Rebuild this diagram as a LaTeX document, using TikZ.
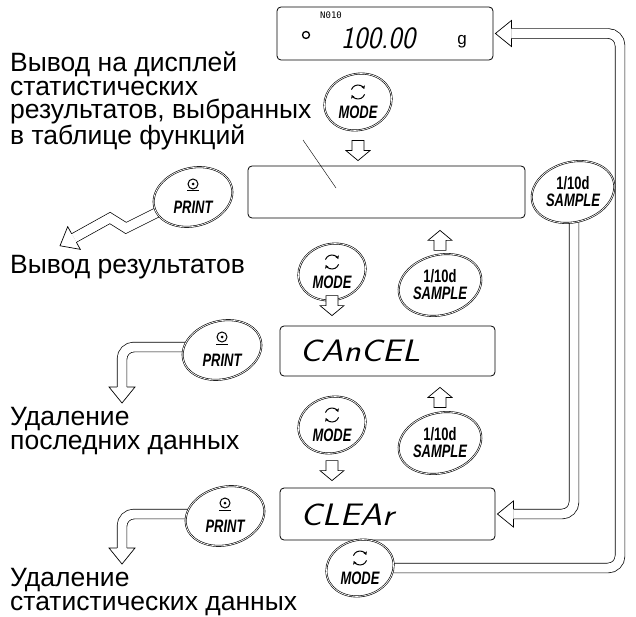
\documentclass[tikz,border=0pt]{standalone}
\usepackage{fontspec}
\setmainfont{Liberation Sans}
\newfontfamily\keyfont[FakeStretch=0.72]{Liberation Sans}
\newfontfamily\counterfont{DejaVu Sans Mono}
\usetikzlibrary{shapes.geometric, calc, positioning, arrows.meta}

% hollow arrow head at #2, pointing away from #1
\newcommand\hollowhead[2]{%
  \fill[white] ($(#2)!13pt!90:(#1)$) -- ($(#2)!-16pt!(#1)$) -- ($(#2)!13pt!-90:(#1)$) -- cycle;
  \draw[line width=0.7pt, line join=miter] ($(#2)!4.9pt!90:(#1)$) -- ($(#2)!13pt!90:(#1)$)
    -- ($(#2)!-16pt!(#1)$) -- ($(#2)!13pt!-90:(#1)$) -- ($(#2)!4.9pt!-90:(#1)$);}

\tikzset{
  display/.style = {draw, rounded corners=4pt, line width=0.8pt, inner sep=0pt},
  key/.style = {ellipse, draw, fill=white, line width=0.6pt, double,
                double distance=0.7pt, rotate=15, inner sep=0pt},
  modekey/.style = {key, minimum width=68pt, minimum height=56pt},
  printkey/.style = {key, minimum width=80pt, minimum height=58pt},
  samplekey/.style = {key, minimum width=84pt, minimum height=60pt},
  keytext/.style = {font=\keyfont\bfseries\itshape\fontsize{18}{17}\selectfont,
                    inner sep=0pt, align=center},
  lcd/.style = {font=\sffamily\itshape\fontsize{31}{31}\selectfont, inner sep=0pt},
  band/.style = {line width=0.7pt, double, double distance=9pt, rounded corners=12pt},
  bolt/.style = {line width=0.7pt, double, double distance=9pt, line join=miter},
  note/.style = {font=\fontsize{26.5}{23.5}\selectfont, align=left, inner sep=0pt,
                 anchor=base west},
  pics/downarrow/.style = {code={
    \draw[fill=white, line width=0.7pt] (-6,-10) -- (6,-10) -- (6,0) -- (12,0)
      -- (0,10) -- (-12,0) -- (-6,0) -- cycle;}},
  pics/uparrow/.style = {code={
    \draw[fill=white, line width=0.7pt] (-6,10) -- (6,10) -- (6,0) -- (12,0)
      -- (0,-10) -- (-12,0) -- (-6,0) -- cycle;}},
  pics/modeicon/.style = {code={
    \draw[line width=1pt, -{Stealth[length=3.5pt, width=4pt]}]
      (200:7) arc[start angle=200, end angle=335, radius=7];
    \draw[line width=1pt, -{Stealth[length=3.5pt, width=4pt]}]
      (20:7) arc[start angle=20, end angle=155, radius=7];}},
  pics/printicon/.style = {code={
    \draw[line width=1pt] (0,0) circle[radius=5];
    \fill (0,0) circle[radius=1.5];
    \draw[line width=1pt] (-6,7) -- (6,7);}},
}

\begin{document}
\begin{tikzpicture}[x=1pt, y=-1pt]
  \useasboundingbox (0,0) rectangle (636,617);

  % Displays
  \node (dTop) [display, minimum width=216pt, minimum height=53pt] at (385,33.5) {};
  \node (dStat) [display, minimum width=277pt, minimum height=52pt] at (386.5,192) {};
  \node (dCancel) [display, minimum width=215pt, minimum height=50pt] at (387.5,351) {};
  \node (dClear) [display, minimum width=215pt, minimum height=52pt] at (387.5,514) {};

  % Display texts
  \node (nCount) [font=\counterfont\fontsize{9}{9}\selectfont, inner sep=0pt] at (331,15) {N010};
  \node (stab) [circle, draw, line width=1.3pt, minimum size=7pt, inner sep=0pt] at (306,35) {};
  \node (lcdTop) [lcd] at (378,38) {\scalebox{0.92}[1]{100.00}};
  \node (unitG) [font=\fontsize{17}{17}\selectfont, inner sep=0pt] at (462,42) {g};
  \node (lcdCancel) [lcd] at (360,351) {\scalebox{1.15}[1]{CAnCEL}};
  \node (lcdClear) [lcd] at (347,515) {\scalebox{1.15}[1]{CLEAr}};

  % Texts on the left
  \node (txtStat) [note] at (10,145)
    {Вывод на дисплей\\статистических\\результатов, выбранных\\в таблице функций};
  \node (txtOut) [note] at (10,273) {Вывод результатов};
  \node (txtCancel) [note] at (10,449) {Удаление\\последних данных};
  \node (txtClear) [note] at (10,610) {Удаление\\статистических данных};

  % Coordinates for the connectors
  \coordinate (leadA) at (303,140);
  \coordinate (leadB) at (336,188);
  \coordinate (zA0) at (170,206);
  \coordinate (zA1) at (126,228);
  \coordinate (zA2) at (110,218);
  \coordinate (zA3) at (74,238);
  \coordinate (bendB) at (122,387);
  \coordinate (bendC) at (122,548);
  \coordinate (railX) at (620,0);
  \coordinate (headTop) at ($(dTop.east)+(18,0)$);
  \coordinate (headClear) at ($(dClear.east)+(18,0)$);

  % Hollow bands
  \draw[thin] (leadA) -- (leadB);
  \draw[bolt] (zA0) -- (zA1) -- (zA2) -- (zA3);
  \hollowhead{zA2}{zA3}
  \coordinate (cornerB) at (bendB |- 0,347);
  \draw[band] (222,347) -- (cornerB) -- (bendB);
  \hollowhead{cornerB}{bendB}
  \coordinate (cornerC) at (bendC |- 0,514);
  \draw[band] (225,514) -- (cornerC) -- (bendC);
  \hollowhead{cornerC}{bendC}
  \coordinate (railTop) at (headTop -| railX);
  \draw[band] (360,568) -| (railTop) -- (headTop);
  \hollowhead{railTop}{headTop}
  \coordinate (cornerClear) at (574,0 |- headClear);
  \draw[band] (574,192) -- (cornerClear) -- (headClear);
  \hollowhead{cornerClear}{headClear}

  % Keys
  \node (bModeA) [modekey] at (358,102) {};
  \node (bPrintA) [printkey] at (193,197) {};
  \node (bSampleA) [samplekey] at (573,192) {};
  \node (bModeB) [modekey] at (332,272) {};
  \node (bSampleB) [samplekey] at (440,285) {};
  \node (bPrintB) [printkey] at (222,350) {};
  \node (bModeC) [modekey] at (332,425) {};
  \node (bSampleC) [samplekey] at (440,443) {};
  \node (bPrintC) [printkey] at (225,516) {};
  \node (bModeD) [modekey] at (360,568) {};

  % Key labels
  \foreach \k in {bModeA, bModeB, bModeC, bModeD} {
    \pic at ($(\k)+(0,-10)$) {modeicon};
    \node (\k t) [keytext] at ($(\k)+(0,10)$) {MODE};
  }
  \foreach \k in {bPrintA, bPrintB, bPrintC} {
    \pic at ($(\k)+(0,-13)$) {printicon};
    \node (\k t) [keytext] at ($(\k)+(0,10)$) {PRINT};
  }
  \foreach \k in {bSampleA, bSampleB, bSampleC}
    \node (\k t) [keytext] at (\k) {\upshape 1/10d\\\itshape SAMPLE};

  % Hollow arrows between keys and displays
  \pic at ($(dStat.north -| bModeA)+(0,-15)$) {downarrow};
  \pic at ($(dStat.south -| bSampleB)+(0,22)$) {uparrow};
  \pic at ($(dCancel.north -| bModeB)+(0,-20)$) {downarrow};
  \pic at ($(dCancel.south -| bSampleC)+(0,21)$) {uparrow};
  \pic at ($(dClear.north -| bModeC)+(0,-17)$) {downarrow};
\end{tikzpicture}
\end{document}
